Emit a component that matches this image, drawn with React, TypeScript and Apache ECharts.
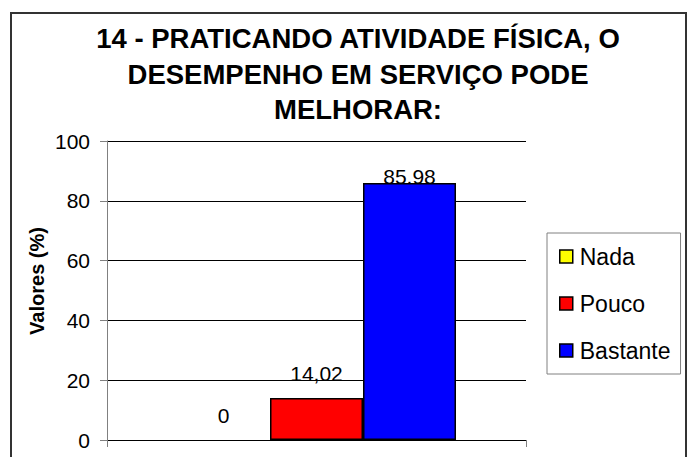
import React, { useEffect, useRef } from "react";
import * as echarts from "echarts";

const categories = [""];
const seriesNames = ["Nada", "Pouco", "Bastante"];
const values = [0, 14.02, 85.98];
const valueLabels = ["0", "14,02", "85.98"];
const colors = ["#FFFF00", "#FF0000", "#0000FF"];
const labelDistances = [14, 14, -4];
const titleLines = [
  "14 - PRATICANDO ATIVIDADE FÍSICA, O",
  "DESEMPENHO EM SERVIÇO PODE",
  "MELHORAR:",
];
const yAxisName = "Valores (%)";

const FONT = "'Liberation Sans', Arial, Helvetica, sans-serif";

export default function App() {
  const ref = useRef<HTMLDivElement>(null);
  useEffect(() => {
    if (!ref.current) return;
    const chart = echarts.init(ref.current, null, { renderer: "svg" });
    const series = seriesNames.map((name, i) => ({
      name,
      type: "bar",
      barWidth: 93,
      barGap: "0%",
      itemStyle: {
        color: colors[i],
        borderColor: "#000",
        borderWidth: values[i] === 0 ? 0 : 1.5,
      },
      label: {
        show: true,
        position: "top",
        distance: labelDistances[i],
        formatter: () => valueLabels[i],
        fontSize: 21,
        fontFamily: FONT,
        color: "#000",
      },
      data: [values[i]],
    }));
    chart.setOption({
      animation: false,
      backgroundColor: "#fff",
      grid: { left: 107, right: 161, top: 141, bottom: 17 },
      graphic: [
        {
          type: "rect",
          z: -10,
          shape: { x: 11, y: 13, width: 675, height: 500 },
          style: { fill: "none", stroke: "#333", lineWidth: 2 },
        },
        {
          type: "text",
          x: 358,
          y: 74,
          style: {
            text: titleLines.join("\n"),
            font: `bold 27.5px ${FONT}`,
            fill: "#000",
            align: "center",
            verticalAlign: "middle",
            lineHeight: 35.5,
          },
        },
        {
          type: "text",
          x: 37,
          y: 281,
          rotation: Math.PI / 2,
          style: {
            text: yAxisName,
            font: `bold 20px ${FONT}`,
            fill: "#000",
            align: "center",
            verticalAlign: "middle",
          },
        },
      ],
      legend: {
        orient: "vertical",
        left: 547,
        top: 233,
        padding: [12, 10, 12, 12],
        itemGap: 24,
        itemWidth: 13,
        itemHeight: 13,
        icon: "rect",
        borderColor: "#808080",
        borderWidth: 1,
        backgroundColor: "#fff",
        textStyle: { fontSize: 23, color: "#000", fontFamily: FONT, lineHeight: 23, padding: [0, 0, 0, 2] },
        itemStyle: { borderColor: "#000", borderWidth: 1.5 },
        data: seriesNames,
      },
      xAxis: {
        type: "category",
        data: categories,
        axisLine: { show: true, lineStyle: { color: "#000", width: 1 } },
        axisTick: { show: true, length: 7, lineStyle: { color: "#808080" } },
        axisLabel: { show: false },
        splitLine: { show: false },
      },
      yAxis: {
        type: "value",
        min: 0,
        max: 100,
        interval: 20,
        axisLine: { show: true, lineStyle: { color: "#808080", width: 1 } },
        axisTick: { show: true, length: 7, lineStyle: { color: "#808080" } },
        axisLabel: { fontSize: 21, color: "#000", fontFamily: FONT, margin: 17 },
        splitLine: { show: true, lineStyle: { color: "#000", width: 1 } },
      },
      series,
    });
    return () => chart.dispose();
  }, []);
  return (
    <div
      ref={ref}
      style={{ position: "fixed", left: 0, top: 0, width: 687, height: 457 }}
    />
  );
}
